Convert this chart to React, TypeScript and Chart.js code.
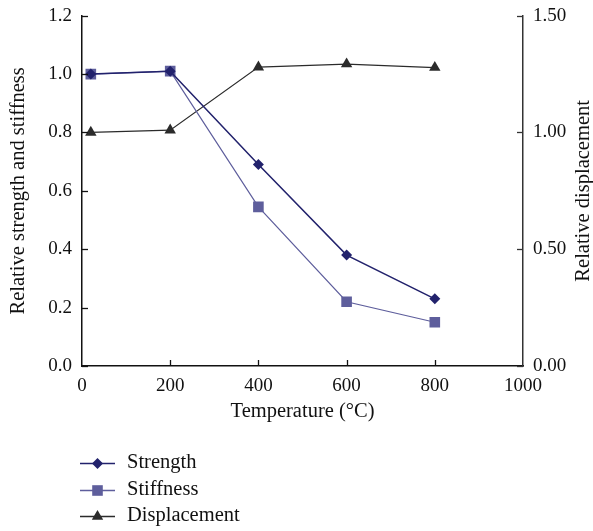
import React, { useEffect, useRef } from 'react';
import { Chart, registerables } from 'chart.js';

Chart.register(...registerables);

// ---- data ----
const temperatures = [20, 200, 400, 600, 800];
const strength = [1.0, 1.01, 0.69, 0.38, 0.23];
const stiffness = [1.0, 1.01, 0.545, 0.22, 0.15];
const displacement = [1.0, 1.01, 1.28, 1.293, 1.278];
const seriesNames = ['Strength', 'Stiffness', 'Displacement'];
const xTitle = 'Temperature (°C)';
const yLeftTitle = 'Relative strength and stiffness';
const yRightTitle = 'Relative displacement';

const FONT = '"Liberation Serif", "Times New Roman", serif';
const TITLE_SIZE = 20.5;
const TICK_SIZE = 19;
const COLORS = ['#22226c', '#5e5e9c', '#2b2b2b'];
const SHAPES = ['diamond', 'square', 'triangle'];

function drawMarker(ctx: CanvasRenderingContext2D, shape: string, x: number, y: number, color: string) {
  ctx.fillStyle = color;
  ctx.beginPath();
  if (shape === 'diamond') {
    const r = 5.5;
    ctx.moveTo(x, y - r); ctx.lineTo(x + r, y); ctx.lineTo(x, y + r); ctx.lineTo(x - r, y);
  } else if (shape === 'square') {
    const h = 5.3;
    ctx.rect(x - h, y - h, 2 * h, 2 * h);
  } else {
    const r = 6.6;
    const s = r * Math.sqrt(3) / 2;
    ctx.moveTo(x, y - r); ctx.lineTo(x + s, y + r / 2); ctx.lineTo(x - s, y + r / 2);
  }
  ctx.closePath();
  ctx.fill();
}

const decorPlugin = {
  id: 'decor',
  afterDraw(chart: any) {
    const ctx: CanvasRenderingContext2D = chart.ctx;
    const { x, y, y2 } = chart.scales;
    const area = chart.chartArea;
    ctx.save();
    // inward tick marks
    const L = 6;
    ctx.lineWidth = 1.3;
    ctx.strokeStyle = '#111';
    x.ticks.forEach((t: any) => {
      if (t.value <= x.min || t.value >= x.max) return;
      const px = Math.round(x.getPixelForValue(t.value)) + 0.5;
      ctx.beginPath(); ctx.moveTo(px, area.bottom); ctx.lineTo(px, area.bottom - L); ctx.stroke();
    });
    y.ticks.forEach((t: any) => {
      const py = Math.round(y.getPixelForValue(t.value)) + 0.5;
      ctx.beginPath(); ctx.moveTo(area.left, py); ctx.lineTo(area.left + L, py); ctx.stroke();
    });
    ctx.strokeStyle = '#333';
    y2.ticks.forEach((t: any) => {
      const py = Math.round(y2.getPixelForValue(t.value)) + 0.5;
      ctx.beginPath(); ctx.moveTo(area.right, py); ctx.lineTo(area.right - L, py); ctx.stroke();
    });
    // right axis title (reads bottom to top)
    ctx.save();
    ctx.translate(584, (area.top + area.bottom) / 2);
    ctx.rotate(-Math.PI / 2);
    ctx.font = `${TITLE_SIZE}px ${FONT}`;
    ctx.fillStyle = '#111';
    ctx.textAlign = 'center';
    ctx.textBaseline = 'middle';
    ctx.fillText(yRightTitle, 0, 0);
    ctx.restore();
    // legend
    const rows = [463, 490, 516];
    chart.data.datasets.forEach((ds: any, i: number) => {
      const yy = rows[i] + 0.5;
      ctx.strokeStyle = COLORS[i];
      ctx.lineWidth = 1.4;
      ctx.beginPath(); ctx.moveTo(80, yy); ctx.lineTo(115, yy); ctx.stroke();
      drawMarker(ctx, SHAPES[i], 97.5, yy, COLORS[i]);
      ctx.font = `${TITLE_SIZE}px ${FONT}`;
      ctx.fillStyle = '#111';
      ctx.textAlign = 'left';
      ctx.textBaseline = 'middle';
      ctx.fillText(ds.label, 127, rows[i]);
    });
    ctx.restore();
  },
};

export default function App() {
  const ref = useRef<HTMLCanvasElement>(null);
  useEffect(() => {
    if (!ref.current) return;
    const mk = (vals: number[]) => temperatures.map((t, i) => ({ x: t, y: vals[i] }));
    const chart = new Chart(ref.current, {
      type: 'line',
      data: {
        datasets: [
          {
            label: seriesNames[0], data: mk(strength), yAxisID: 'y',
            borderColor: COLORS[0], backgroundColor: COLORS[0], borderWidth: 1.5,
            pointStyle: 'rectRot', pointRadius: 5.5, pointBorderWidth: 0, tension: 0,
          },
          {
            label: seriesNames[1], data: mk(stiffness), yAxisID: 'y',
            borderColor: COLORS[1], backgroundColor: COLORS[1], borderWidth: 1.2,
            pointStyle: 'rect', pointRadius: 7.5, pointBorderWidth: 0, tension: 0,
          },
          {
            label: seriesNames[2], data: mk(displacement), yAxisID: 'y2',
            borderColor: COLORS[2], backgroundColor: COLORS[2], borderWidth: 1.2,
            pointStyle: 'triangle', pointRadius: 6.6, pointBorderWidth: 0, tension: 0,
          },
        ],
      },
      options: {
        responsive: false,
        devicePixelRatio: 1,
        animation: false,
        layout: { padding: { top: 15.7, bottom: 105, left: 0, right: 0 } },
        plugins: { legend: { display: false }, tooltip: { enabled: false } },
        scales: {
          x: {
            type: 'linear', position: 'bottom', min: 0, max: 1000,
            grid: { display: false, drawTicks: false },
            border: { display: true, color: '#111', width: 1.5 },
            ticks: { stepSize: 200, padding: 9, color: '#111', font: { family: FONT, size: TICK_SIZE }, callback: (v: any) => String(v) },
            title: { display: true, text: xTitle, color: '#111', font: { family: FONT, size: TITLE_SIZE }, padding: { top: 0, bottom: 2.5 } },
            afterFit: (s: any) => { s.height = 60; s.paddingLeft = 0; s.paddingRight = 0; },
          },
          y: {
            type: 'linear', position: 'left', min: 0, max: 1.2,
            grid: { display: false, drawTicks: false },
            border: { display: true, color: '#111', width: 1.5 },
            ticks: { stepSize: 0.2, padding: 10, color: '#111', font: { family: FONT, size: TICK_SIZE }, callback: (v: any) => Number(v).toFixed(1) },
            title: { display: true, text: yLeftTitle, color: '#111', font: { family: FONT, size: TITLE_SIZE }, padding: { top: 6, bottom: 0 } },
            afterFit: (s: any) => { s.width = 82; s.paddingTop = 0; s.paddingBottom = 0; },
          },
          y2: {
            type: 'linear', position: 'right', min: 0, max: 1.5,
            grid: { display: false, drawTicks: false },
            border: { display: true, color: '#333', width: 1.5 },
            ticks: { stepSize: 0.5, padding: 10, color: '#111', font: { family: FONT, size: TICK_SIZE }, callback: (v: any) => Number(v).toFixed(2) },
            afterFit: (s: any) => { s.width = 70; s.paddingTop = 0; s.paddingBottom = 0; },
          },
        },
      },
      plugins: [decorPlugin],
    } as any);
    return () => chart.destroy();
  }, []);
  return (
    <div style={{ position: 'absolute', left: 0, top: 0, width: 593, height: 531, background: '#fff' }}>
      <canvas ref={ref} width={593} height={531} style={{ display: 'block', width: 593, height: 531 }} />
    </div>
  );
}
